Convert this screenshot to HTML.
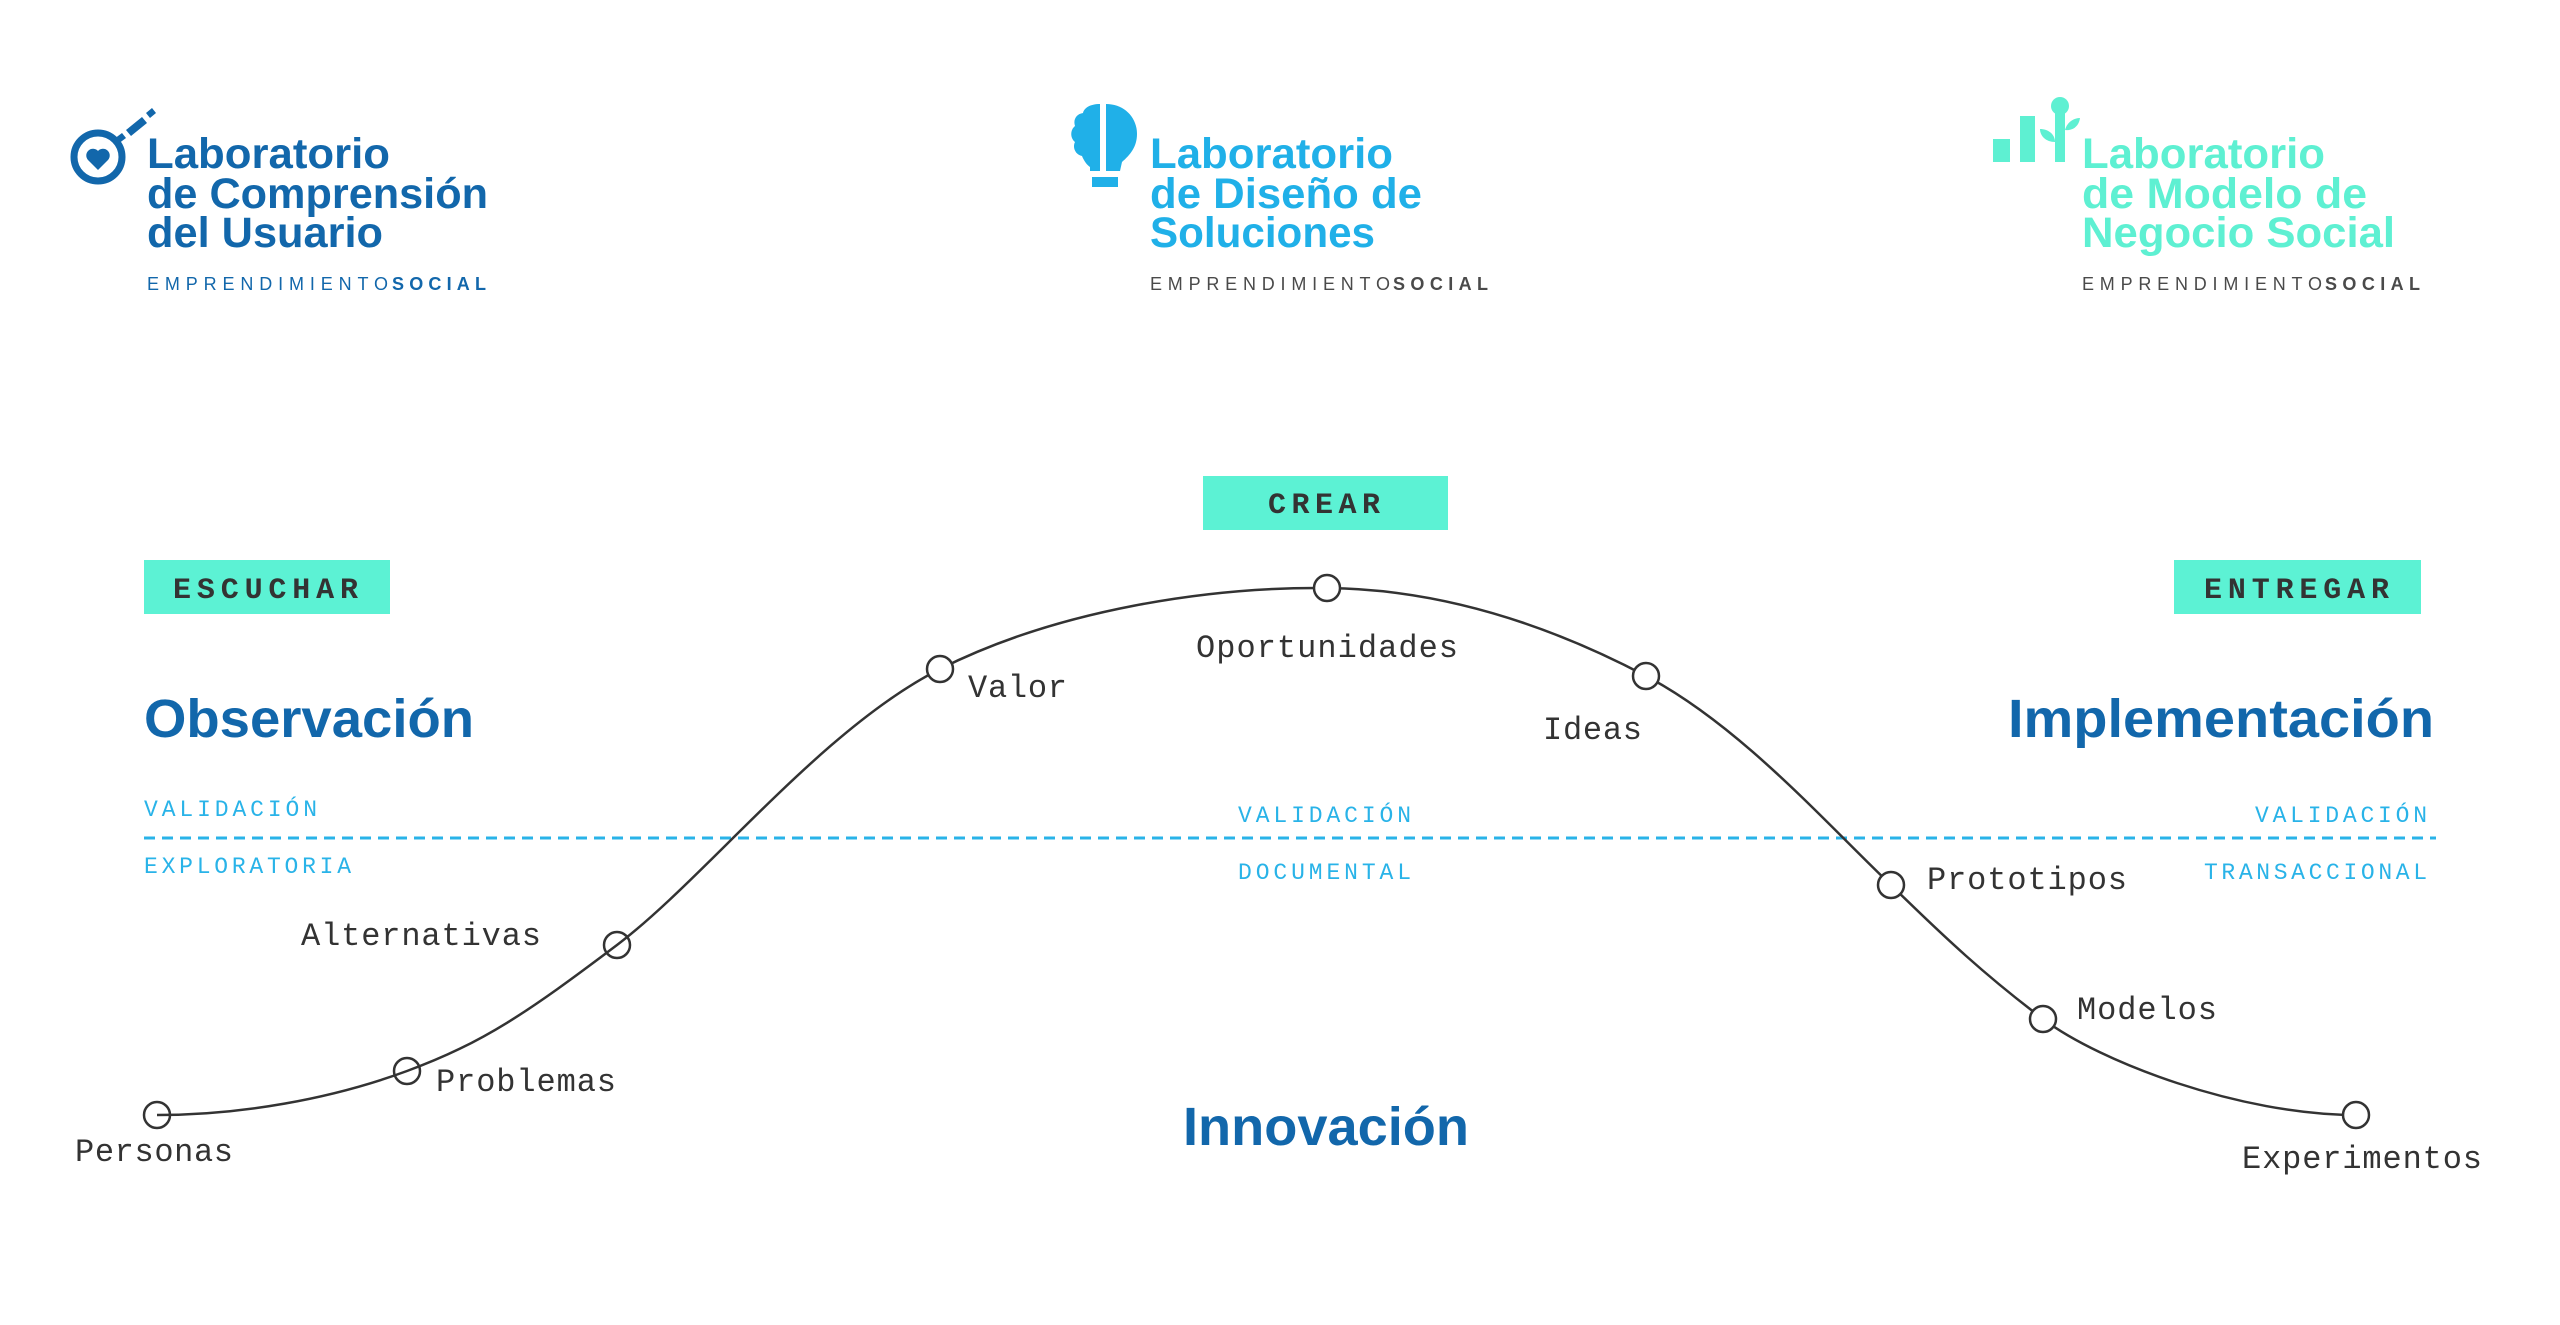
<!DOCTYPE html>
<html><head><meta charset="utf-8">
<style>
html,body{margin:0;padding:0;background:#fff;}
svg{display:block;}
.h{font-family:"Liberation Sans",sans-serif;font-weight:bold;}
.m{font-family:"Liberation Mono",monospace;}
</style></head>
<body>
<svg width="2560" height="1325" viewBox="0 0 2560 1325" xmlns="http://www.w3.org/2000/svg">
<rect width="2560" height="1325" fill="#fff"/>

<!-- Logo 1 -->
<g fill="#1267ab">
  <circle cx="98" cy="157" r="24" fill="none" stroke="#1267ab" stroke-width="7"/>
  <path d="M98 170 L88 160 A5.5 5.5 0 0 1 98 151 A5.5 5.5 0 0 1 108 160 Z"/>
  <path d="M114 139 L122 133 L126 138 L118 144 Z"/>
  <path d="M126 130 L142 117 L147 123 L131 136 Z"/>
  <path d="M146 113 L152 108 L156 113 L150 118 Z"/>
</g>
<g class="h" fill="#1267ab" font-size="43">
  <text x="147" y="168" textLength="243" lengthAdjust="spacingAndGlyphs">Laboratorio</text>
  <text x="147" y="208" textLength="341" lengthAdjust="spacingAndGlyphs">de Comprensión</text>
  <text x="147" y="247" textLength="236" lengthAdjust="spacingAndGlyphs">del Usuario</text>
</g>
<text x="147" y="290" font-family="Liberation Sans,sans-serif" font-size="18" fill="#1267ab" textLength="241" lengthAdjust="spacing">EMPRENDIMIENTO</text>
<text x="392" y="290" font-family="Liberation Sans,sans-serif" font-weight="bold" font-size="18" fill="#1267ab" textLength="94" lengthAdjust="spacing">SOCIAL</text>

<!-- Logo 2 -->
<g fill="#20b0e8">
  <path d="M1100 104 C1090 104 1084 108 1083 113 C1076 114 1073 120 1075 126 C1070 130 1070 138 1075 142 C1072 148 1076 155 1082 156 C1084 161 1087 165 1090 167 L1090 171 L1100 171 Z"/>
  <path d="M1106 104 C1124 104 1137 117 1137 134 C1137 147 1130 155 1122 162 L1120 171 L1106 171 Z"/>
  <rect x="1092" y="177" width="26" height="10"/>
</g>
<g class="h" fill="#20b0e8" font-size="43">
  <text x="1150" y="168" textLength="243" lengthAdjust="spacingAndGlyphs">Laboratorio</text>
  <text x="1150" y="208" textLength="272" lengthAdjust="spacingAndGlyphs">de Diseño de</text>
  <text x="1150" y="247" textLength="225" lengthAdjust="spacingAndGlyphs">Soluciones</text>
</g>
<text x="1150" y="290" font-family="Liberation Sans,sans-serif" font-size="18" fill="#4a4a4a" textLength="240" lengthAdjust="spacing">EMPRENDIMIENTO</text>
<text x="1393" y="290" font-family="Liberation Sans,sans-serif" font-weight="bold" font-size="18" fill="#4a4a4a" textLength="95" lengthAdjust="spacing">SOCIAL</text>

<!-- Logo 3 -->
<g fill="#5ef0d2">
  <rect x="1993" y="139" width="17" height="23"/>
  <rect x="2020" y="116" width="15" height="46"/>
  <rect x="2055" y="112" width="10" height="50"/>
  <circle cx="2060" cy="106" r="9"/>
  <path d="M2055 142 C2046 142 2040 136 2040 129 C2048 129 2055 134 2055 142 Z"/>
  <path d="M2065 130 C2067 122 2074 118 2080 118 C2079 126 2073 131 2065 130 Z"/>
</g>
<g class="h" fill="#5ef0d2" font-size="43">
  <text x="2082" y="168" textLength="243" lengthAdjust="spacingAndGlyphs">Laboratorio</text>
  <text x="2082" y="208" textLength="285" lengthAdjust="spacingAndGlyphs">de Modelo de</text>
  <text x="2082" y="247" textLength="313" lengthAdjust="spacingAndGlyphs">Negocio Social</text>
</g>
<text x="2082" y="290" font-family="Liberation Sans,sans-serif" font-size="18" fill="#4a4a4a" textLength="240" lengthAdjust="spacing">EMPRENDIMIENTO</text>
<text x="2325" y="290" font-family="Liberation Sans,sans-serif" font-weight="bold" font-size="18" fill="#4a4a4a" textLength="95" lengthAdjust="spacing">SOCIAL</text>

<!-- Tags -->
<rect x="144" y="560" width="246" height="54" fill="#5cf2d4"/>
<rect x="1203" y="476" width="245" height="54" fill="#5cf2d4"/>
<rect x="2174" y="560" width="247" height="54" fill="#5cf2d4"/>
<g class="m" font-weight="bold" font-size="30" fill="#333">
  <text x="173" y="598" textLength="185" lengthAdjust="spacing">ESCUCHAR</text>
  <text x="1268" y="513" textLength="112" lengthAdjust="spacing">CREAR</text>
  <text x="2204" y="598" textLength="185" lengthAdjust="spacing">ENTREGAR</text>
</g>

<!-- Headings -->
<g class="h" fill="#1267ab" font-size="54">
  <text x="144" y="737" textLength="330" lengthAdjust="spacingAndGlyphs">Observación</text>
  <text x="2008" y="737" textLength="426" lengthAdjust="spacingAndGlyphs">Implementación</text>
  <text x="1183" y="1145" textLength="286" lengthAdjust="spacingAndGlyphs">Innovación</text>
</g>

<!-- Dashed line & validation labels -->
<line x1="144" y1="838" x2="2436" y2="838" stroke="#29b3e8" stroke-width="3" stroke-dasharray="11 7"/>
<g class="m" font-size="23" fill="#29b3e8">
  <text x="144" y="816" textLength="173" lengthAdjust="spacing">VALIDACIÓN</text>
  <text x="144" y="873" textLength="207" lengthAdjust="spacing">EXPLORATORIA</text>
  <text x="1238" y="822" textLength="173" lengthAdjust="spacing">VALIDACIÓN</text>
  <text x="1238" y="879" textLength="173" lengthAdjust="spacing">DOCUMENTAL</text>
  <text x="2255" y="822" textLength="172" lengthAdjust="spacing">VALIDACIÓN</text>
  <text x="2204" y="879" textLength="223" lengthAdjust="spacing">TRANSACCIONAL</text>
</g>

<!-- Curve -->
<path d="M157 1115 C240.3 1115 330.3 1099.3 407 1071 C483.7 1042.7 528.2 1012 617 945 C705.8 878 821.7 728.5 940 669 C1058.3 609.5 1209.3 586.8 1327 588 C1444.7 589.2 1552 626.5 1646 676 C1740 725.5 1824.8 822 1891 885 C1945 938 1986 976 2043 1019 C2100 1062 2240 1115 2356 1115" fill="none" stroke="#333" stroke-width="2.5"/>

<g stroke="#333" stroke-width="2.5">
  <circle cx="157" cy="1115" r="13" fill="none"/>
  <circle cx="407" cy="1071" r="13" fill="none"/>
  <circle cx="617" cy="945" r="13" fill="none"/>
  <circle cx="940" cy="669" r="13" fill="#fff"/>
  <circle cx="1327" cy="588" r="13" fill="#fff"/>
  <circle cx="1646" cy="676" r="13" fill="#fff"/>
  <circle cx="1891" cy="885" r="13" fill="#fff"/>
  <circle cx="2043" cy="1019" r="13" fill="#fff"/>
  <circle cx="2356" cy="1115" r="13" fill="#fff"/>
</g>

<g class="m" font-size="32" fill="#333">
  <text x="75" y="1161" textLength="158" lengthAdjust="spacing">Personas</text>
  <text x="436" y="1091" textLength="180" lengthAdjust="spacing">Problemas</text>
  <text x="301" y="945" textLength="240" lengthAdjust="spacing">Alternativas</text>
  <text x="968" y="697" textLength="99" lengthAdjust="spacing">Valor</text>
  <text x="1196" y="657" textLength="262" lengthAdjust="spacing">Oportunidades</text>
  <text x="1543" y="739" textLength="99" lengthAdjust="spacing">Ideas</text>
  <text x="1927" y="889" textLength="200" lengthAdjust="spacing">Prototipos</text>
  <text x="2077" y="1019" textLength="140" lengthAdjust="spacing">Modelos</text>
  <text x="2242" y="1168" textLength="240" lengthAdjust="spacing">Experimentos</text>
</g>
</svg>
</body></html>
